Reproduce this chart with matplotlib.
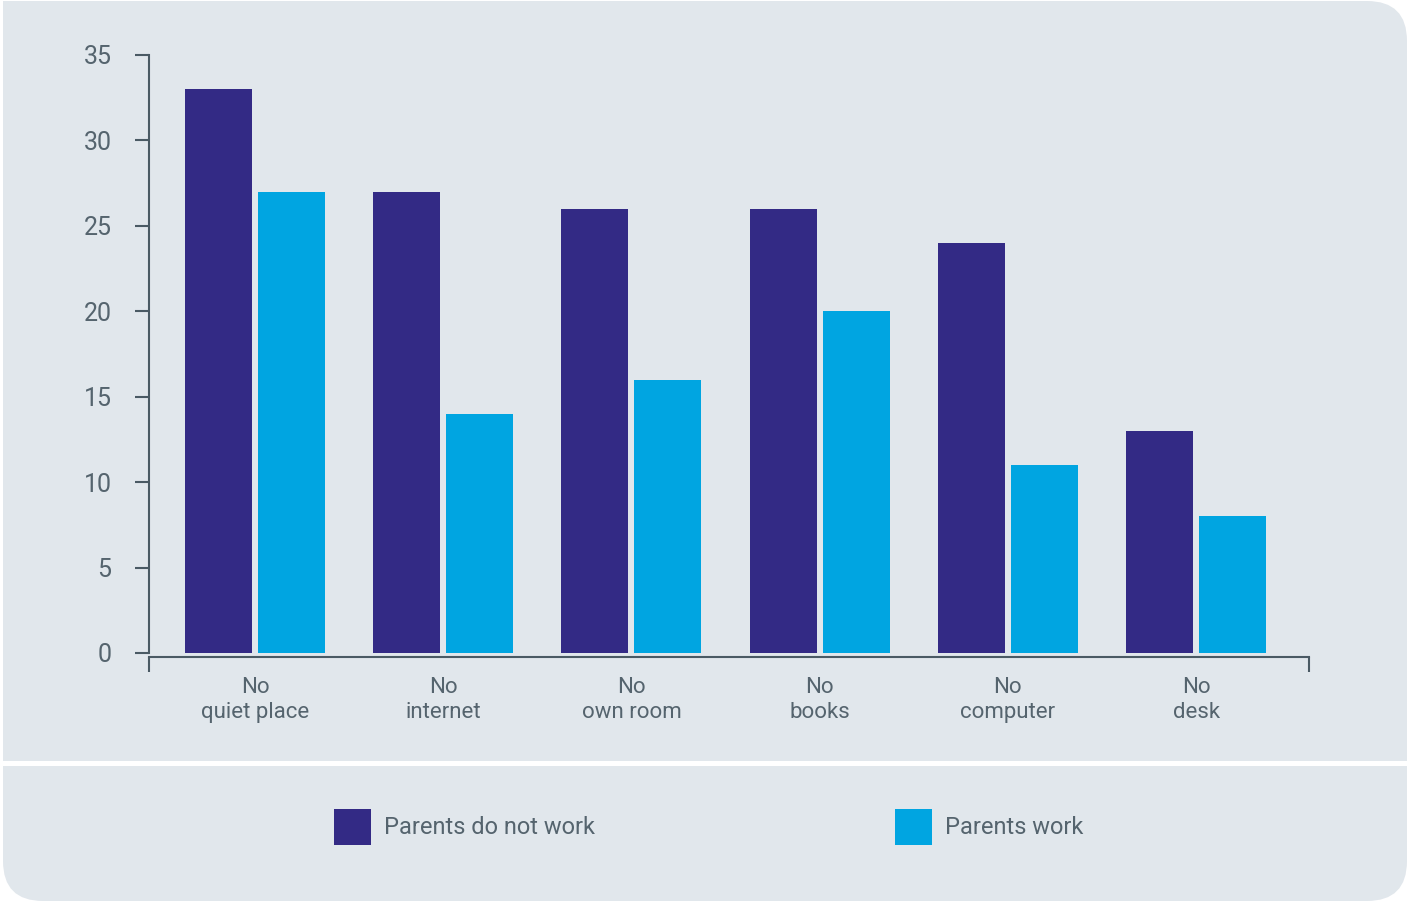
import matplotlib.pyplot as plt
from matplotlib.patches import FancyBboxPatch, Rectangle
import numpy as np

# data
categories = ["No\nquiet place", "No\ninternet", "No\nown room", "No\nbooks", "No\ncomputer", "No\ndesk"]
not_work = [33, 27, 26, 26, 24, 13]
work = [27, 14, 16, 20, 11, 8]
series_names = ["Parents do not work", "Parents work"]
yticks = [0, 5, 10, 15, 20, 25, 30, 35]

dark = "#332a85"
light = "#00a5e1"
bg = "#e1e7ec"
txt = "#55646e"
spine_c = "#4a5a64"

plt.rcParams["font.family"] = ["Roboto", "DejaVu Sans"]

W, H = 1407, 902
fig = plt.figure(figsize=(W / 100, H / 100), dpi=100, facecolor="white")

# background panel in pixel coords
bgax = fig.add_axes([0, 0, 1, 1])
bgax.set_xlim(0, W)
bgax.set_ylim(H, 0)
bgax.set_axis_off()
r = 40
bgax.add_patch(FancyBboxPatch((3 + r, 1 + r), W - 3 - 2 * r, H - 2 - 2 * r,
                              boxstyle=f"round,pad={r},rounding_size={r}",
                              fc=bg, ec="none"))
bgax.add_patch(Rectangle((3, 1), 200, 200, fc=bg, ec="none"))
bgax.add_patch(Rectangle((0, 761), W, 5, fc="white", ec="none"))

# main axes
ax = fig.add_axes([149 / W, (H - 653) / H, (1309 - 149) / W, (653 - 55) / H])
ax.set_facecolor("none")
x = np.arange(len(categories))
w = 0.356
off = 0.194
b1 = ax.bar(x - off, not_work, w, color=dark, label=series_names[0])
b2 = ax.bar(x + off, work, w, color=light, label=series_names[1])

ax.set_ylim(0, 35)
xl = (-0.563, 5.6)
ax.set_xlim(*xl)

for s in ["top", "right"]:
    ax.spines[s].set_visible(False)
for s in ["left", "bottom"]:
    ax.spines[s].set_color(spine_c)
    ax.spines[s].set_linewidth(1.5)
ax.spines["bottom"].set_position(("outward", 3))

ax.set_yticks(yticks)
ax.tick_params(axis="y", length=10, width=1.5, color=spine_c, pad=17,
               labelsize=18, labelcolor=txt)

# x axis: end ticks only, category labels as minor ticks
ax.set_xticks(list(xl))
ax.set_xticklabels([])
ax.tick_params(axis="x", which="major", length=11, width=1.5, color=spine_c, direction="out")
ax.set_xticks(x, minor=True)
ax.set_xticklabels(categories, minor=True, fontsize=16, color=txt, linespacing=1.27)
ax.tick_params(axis="x", which="minor", length=0, pad=14)

# legend
fig.legend(handles=[b1, b2], labels=series_names, loc="center left",
           bbox_to_anchor=(334 / W, (H - 827) / H), ncol=2, frameon=False,
           fontsize=17, labelcolor=txt, handlelength=1.565, handleheight=2.03,
           handletextpad=0.55, columnspacing=12.7, borderpad=0, borderaxespad=0)

fig.savefig("out.png", dpi=100, facecolor="white")
